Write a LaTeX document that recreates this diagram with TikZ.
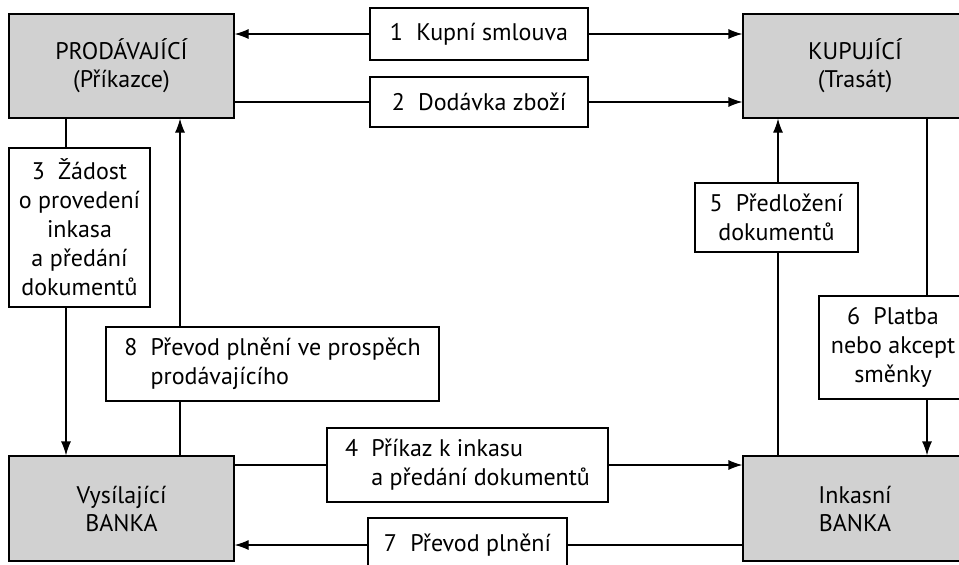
\documentclass[tikz,border=0pt]{standalone}
\usepackage{fontspec}
\setmainfont{PT Sans}
\usetikzlibrary{arrows.meta}
\newcommand{\stepnr}[1]{#1\hspace{0.55em}}
\newcommand{\hangnr}[1]{\hphantom{\stepnr{#1}}}

\begin{document}
\begin{tikzpicture}[x=1pt,y=-1pt]
\tikzset{
  party/.style={draw,fill=black!18,line width=1.2pt,minimum width=225pt,minimum height=104pt,inner sep=2pt,align=center,font=\fontsize{24}{28}\selectfont},
  stepbox/.style={draw,fill=white,line width=1.2pt,inner sep=2pt,align=center,font=\fontsize{24}{29}\selectfont},
  directed/.style={-{Latex[length=14pt,width=10pt]},line width=1.2pt},
  undirected/.style={line width=1.2pt}
}
\useasboundingbox (0,0) rectangle (959,565);
\clip (0,0) rectangle (959,565);
% parties
\node[party] (n_prod) at (121.5,66) {PRODÁVAJÍCÍ\\(Příkazce)};
\node[party,minimum width=224pt] (n_kup) at (855,66) {KUPUJÍCÍ\\(Trasát)};
\node[party,minimum height=105pt] (n_vys) at (121.5,508.5) {Vysílající\\BANKA};
\node[party,minimum width=224pt,minimum height=105pt] (n_ink) at (855,508.5) {Inkasní\\BANKA};
% steps
\node[stepbox,minimum width=218pt,minimum height=52pt] (n_s1) at (479,34) {\stepnr{1}Kupní smlouva};
\node[stepbox,minimum width=218pt,minimum height=50pt] (n_s2) at (479,102) {\stepnr{2}Dodávka zboží};
\node[stepbox,minimum width=141pt,minimum height=159pt] (n_s3) at (79.5,227.5) {\stepnr{3}Žádost\\o provedení\\inkasa\\a předání\\dokumentů};
\node[stepbox,align=left,minimum width=333pt,minimum height=74pt] (n_s8) at (272.5,364) {\stepnr{8}Převod plnění ve prospěch\\\hangnr{8}prodávajícího};
\node[stepbox,minimum width=163pt,minimum height=69pt] (n_s5) at (776.5,217.5) {\stepnr{5}Předložení\\dokumentů};
\node[stepbox,minimum width=148pt,minimum height=103pt] (n_s6) at (893,347.5) {\stepnr{6}Platba\\nebo akcept\\směnky};
\node[stepbox,align=left,minimum width=281pt,minimum height=74pt] (n_s4) at (467.5,465) {\stepnr{4}Příkaz k inkasu\\\hangnr{4}a předání dokumentů};
\node[stepbox,minimum width=199pt,minimum height=54pt] (n_s7) at (467.5,545) {\stepnr{7}Převod plnění};
% vertical tracks
\coordinate (x3) at (66,0);
\coordinate (x8) at (180,0);
\coordinate (x5) at (778,0);
\coordinate (x6) at (927,0);
\draw[directed] (n_s1.west) -- (n_s1.west -| n_prod.east);
\draw[directed] (n_s1.east) -- (n_s1.east -| n_kup.west);
\draw[undirected] (n_s2.west -| n_prod.east) -- (n_s2.west);
\draw[directed] (n_s2.east) -- (n_s2.east -| n_kup.west);
\draw[undirected] (x3 |- n_prod.south) -- (x3 |- n_s3.north);
\draw[directed] (x3 |- n_s3.south) -- (x3 |- n_vys.north);
\draw[undirected] (x8 |- n_vys.north) -- (x8 |- n_s8.south);
\draw[directed] (x8 |- n_s8.north) -- (x8 |- n_prod.south);
\draw[undirected] (n_s4.west -| n_vys.east) -- (n_s4.west);
\draw[directed] (n_s4.east) -- (n_s4.east -| n_ink.west);
\draw[undirected] (x5 |- n_ink.north) -- (x5 |- n_s5.south);
\draw[directed] (x5 |- n_s5.north) -- (x5 |- n_kup.south);
\draw[undirected] (x6 |- n_kup.south) -- (x6 |- n_s6.north);
\draw[directed] (x6 |- n_s6.south) -- (x6 |- n_ink.north);
\draw[undirected] (n_s7.east -| n_ink.west) -- (n_s7.east);
\draw[directed] (n_s7.west) -- (n_s7.west -| n_vys.east);
\end{tikzpicture}
\end{document}
